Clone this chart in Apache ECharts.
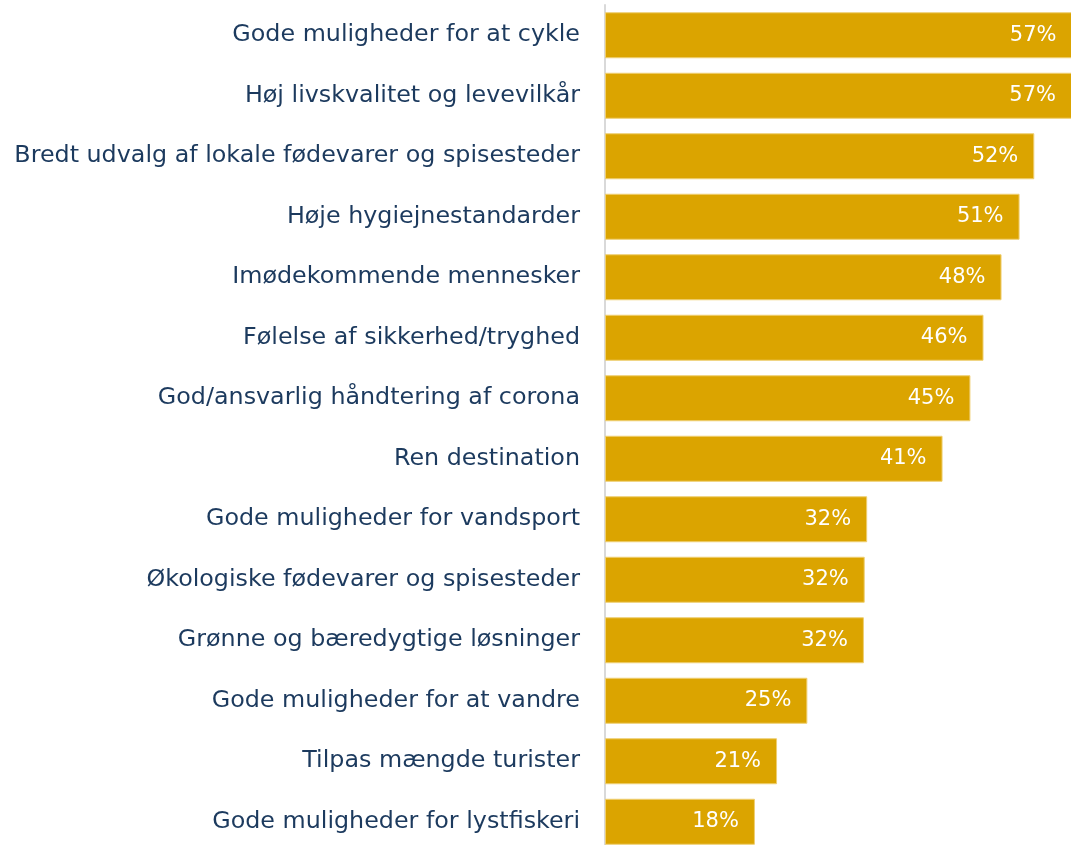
<!DOCTYPE html>
<html>
<head>
<meta charset="utf-8">
<script src="https://cdn.jsdelivr.net/npm/echarts@6/dist/echarts.min.js"></script>
<style>html,body{margin:0;padding:0;background:#fff;}#c{width:1071px;height:845px;}</style>
</head>
<body>
<div id="c"></div>
<script>
const categories = [
  "Gode muligheder for at cykle",
  "Høj livskvalitet og levevilkår",
  "Bredt udvalg af lokale fødevarer og spisesteder",
  "Høje hygiejnestandarder",
  "Imødekommende mennesker",
  "Følelse af sikkerhed/tryghed",
  "God/ansvarlig håndtering af corona",
  "Ren destination",
  "Gode muligheder for vandsport",
  "Økologiske fødevarer og spisesteder",
  "Grønne og bæredygtige løsninger",
  "Gode muligheder for at vandre",
  "Tilpas mængde turister",
  "Gode muligheder for lystfiskeri"
];
const values = [57.3, 57.0, 52.4, 50.6, 48.4, 46.2, 44.6, 41.2, 32.0, 31.7, 31.6, 24.7, 21.0, 18.3];

const chart = echarts.init(document.getElementById('c'), null, {renderer: 'canvas'});
chart.setOption({
  animation: false,
  grid: {left: 605, top: 5, width: 467, height: 847, containLabel: false, outerBoundsMode: 'none'},
  xAxis: {
    type: 'value', min: 0, max: 57,
    show: false
  },
  yAxis: {
    type: 'category',
    data: categories,
    inverse: true,
    axisLine: {show: true, lineStyle: {color: '#d9d9d9', width: 2}},
    axisTick: {show: false},
    axisLabel: {
      color: '#1c3a5e',
      fontFamily: 'DejaVu Sans',
      fontSize: 23.8,
      margin: 25
    }
  },
  series: [{
    type: 'bar',
    data: values,
    barWidth: 46,
    itemStyle: {color: '#dba400', borderColor: '#efcf72', borderWidth: 1},
    label: {
      show: true,
      position: 'insideRight',
      distance: 16,
      color: '#ffffff',
      fontFamily: 'DejaVu Sans',
      fontSize: 21,
      formatter: p => Math.round(p.value) + '%'
    }
  }]
});
</script>
</body>
</html>
